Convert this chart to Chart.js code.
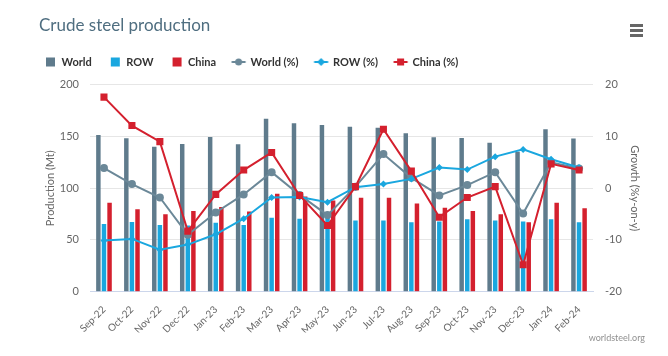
<!DOCTYPE html>
<html>
<head>
<meta charset="utf-8">
<script src="https://cdn.jsdelivr.net/npm/chart.js@4.4.1/dist/chart.umd.min.js"></script>
<style>
  html, body { margin: 0; padding: 0; background: #ffffff; }
  #wrap { position: relative; width: 668px; height: 356px; }
  #menu { position: absolute; left: 630px; top: 24px; width: 13px; }
  #menu div { height: 2.5px; background: #666666; margin-bottom: 2.5px; }
</style>
</head>
<body>
<div id="wrap">
  <canvas id="chart" width="668" height="356"></canvas>
  <div id="menu"><div></div><div></div><div></div></div>
</div>
<script>
// ---- data ----
const months = ['Sep-22','Oct-22','Nov-22','Dec-22','Jan-23','Feb-23','Mar-23','Apr-23','May-23',
                'Jun-23','Jul-23','Aug-23','Sep-23','Oct-23','Nov-23','Dec-23','Jan-24','Feb-24'];
const worldMt  = [151.4, 148.2, 140.1, 142.7, 149.5, 142.4, 167.2, 162.7, 161.0, 159.4, 158.5, 153.0, 149.2, 148.5, 144.0, 135.3, 156.9, 147.9];
const rowMt    = [65.4, 67.4, 64.4, 64.0, 66.7, 64.4, 71.5, 70.5, 72.0, 68.8, 68.8, 67.2, 67.9, 70.0, 68.8, 67.8, 70.0, 67.2];
const chinaMt  = [86.0, 79.6, 74.8, 78.0, 81.8, 77.5, 94.7, 92.0, 88.0, 90.8, 90.8, 85.1, 81.2, 78.0, 74.8, 67.1, 86.0, 80.6];
const worldPct = [3.9, 0.8, -1.8, -9.0, -4.7, -1.2, 3.1, -1.3, -5.2, 0.3, 6.6, 2.0, -1.4, 0.6, 3.1, -4.9, 5.0, 3.8];
const rowPct   = [-10.1, -9.8, -11.9, -10.9, -8.9, -5.9, -1.8, -1.7, -2.7, 0.2, 0.8, 1.8, 4.0, 3.6, 6.1, 7.5, 5.6, 4.0];
const chinaPct = [17.6, 12.1, 9.0, -8.3, -1.2, 3.5, 6.9, -1.4, -7.2, 0.3, 11.4, 3.3, -5.6, -1.8, 0.3, -14.8, 4.7, 3.5];
const seriesNames = ['World', 'ROW', 'China', 'World (%)', 'ROW (%)', 'China (%)'];
const leftAxisTitle = 'Production (Mt)';
const rightAxisTitle = 'Growth (%y-on-y)';
const chartTitle = 'Crude steel production';
const creditText = 'worldsteel.org';

// ---- styles ----
const FONT = 'Lato, "Open Sans", sans-serif';
const C_WORLD = '#5f7b8c';
const C_WORLD_LINE = '#6b8898';
const C_ROW = '#1aa7df';
const C_CHINA = '#d4202e';

function legendSymbol(kind, color) {
  const cv = document.createElement('canvas');
  cv.width = 28; cv.height = 12;
  const g = cv.getContext('2d');
  g.fillStyle = color; g.strokeStyle = color;
  if (kind === 'bar') {
    g.fillRect(12, 1.5, 9, 9);
  } else {
    g.lineWidth = 2;
    g.beginPath(); g.moveTo(8.5, 6); g.lineTo(22.5, 6); g.stroke();
    const cx = 15.5, cy = 6;
    g.beginPath();
    if (kind === 'circle') { g.arc(cx, cy, 3.5, 0, Math.PI * 2); }
    else if (kind === 'diamond') { g.moveTo(cx, cy - 4); g.lineTo(cx + 4, cy); g.lineTo(cx, cy + 4); g.lineTo(cx - 4, cy); g.closePath(); }
    else { g.rect(cx - 3.5, cy - 3.5, 7, 7); }
    g.fill();
  }
  return cv;
}
const legendSymbols = [
  legendSymbol('bar', C_WORLD), legendSymbol('bar', C_ROW), legendSymbol('bar', C_CHINA),
  legendSymbol('circle', C_WORLD_LINE), legendSymbol('diamond', C_ROW), legendSymbol('square', C_CHINA)
];

const layoutTweaks = {
  id: 'layoutTweaks',
  beforeUpdate(chart) {
    const lg = chart.legend;
    if (lg && !lg.__gap) {
      const f = lg.fit;
      lg.fit = function () { f.call(this); this.height += 7.2; };
      lg.__gap = true;
    }
  },
  afterLayout(chart) {
    if (chart.titleBlock) { chart.titleBlock.left += 12; }
  }
};

const barCommon = { type: 'bar', yAxisID: 'y', categoryPercentage: 0.6, barPercentage: 0.8, order: 10, borderWidth: 0 };
const lineCommon = { type: 'line', yAxisID: 'y1', borderWidth: 2, tension: 0, pointBorderWidth: 0, fill: false };

new Chart(document.getElementById('chart'), {
  data: {
    labels: months,
    datasets: [
      Object.assign({}, barCommon, { label: seriesNames[0], data: worldMt, backgroundColor: C_WORLD }),
      Object.assign({}, barCommon, { label: seriesNames[1], data: rowMt, backgroundColor: C_ROW }),
      Object.assign({}, barCommon, { label: seriesNames[2], data: chinaMt, backgroundColor: C_CHINA }),
      Object.assign({}, lineCommon, { label: seriesNames[3], data: worldPct, borderColor: C_WORLD_LINE, backgroundColor: C_WORLD_LINE,
        pointStyle: 'circle', pointRadius: 4, pointBackgroundColor: C_WORLD_LINE, order: 3 }),
      Object.assign({}, lineCommon, { label: seriesNames[4], data: rowPct, borderColor: C_ROW, backgroundColor: C_ROW,
        pointStyle: 'rectRot', pointRadius: 3.5, pointBackgroundColor: C_ROW, order: 2 }),
      Object.assign({}, lineCommon, { label: seriesNames[5], data: chinaPct, borderColor: C_CHINA, backgroundColor: C_CHINA,
        pointStyle: 'rect', pointRadius: 5, pointBackgroundColor: C_CHINA, order: 1 })
    ]
  },
  options: {
    responsive: false,
    animation: false,
    devicePixelRatio: 1,
    layout: { padding: { left: 27, right: 23, top: 0, bottom: 12.6 } },
    plugins: {
      tooltip: { enabled: false },
      title: {
        display: true, text: chartTitle, align: 'start', color: '#4f6e80',
        font: { family: FONT, size: 17, weight: 'normal' },
        padding: { top: 15.8, bottom: 7.3 }
      },
      subtitle: {
        display: true, text: creditText, position: 'bottom', align: 'end', color: '#909090',
        font: { family: FONT, size: 9 }, padding: { top: 0, bottom: 0 }
      },
      legend: {
        display: true, position: 'top', align: 'start',
        labels: {
          usePointStyle: true, pointStyleWidth: 16, padding: 13, color: '#333333',
          font: { family: FONT, size: 11, weight: 'bold' },
          sort: (a, b) => a.datasetIndex - b.datasetIndex,
          generateLabels: (chart) => chart.data.datasets.map((ds, i) => ({
            text: ds.label, datasetIndex: i, pointStyle: legendSymbols[i], hidden: false,
            fillStyle: 'transparent', strokeStyle: 'transparent', lineWidth: 0, fontColor: '#333333'
          }))
        }
      }
    },
    scales: {
      x: {
        grid: { display: false },
        border: { display: true, color: '#ccd6eb', width: 1 },
        ticks: { color: '#666666', font: { family: FONT, size: 10 }, minRotation: 45, maxRotation: 45, padding: 4, autoSkip: false },
        afterFit: (s) => { s.height = 40.9; }
      },
      y: {
        position: 'left', min: 0, max: 200,
        grid: { color: '#e6e6e6', drawTicks: false },
        border: { display: false },
        ticks: { stepSize: 50, color: '#666666', font: { family: FONT, size: 11 }, padding: 11 },
        title: { display: true, text: leftAxisTitle, color: '#666666', font: { family: FONT, size: 11 }, padding: { top: 16.4, bottom: 0 } },
        afterFit: (s) => { s.width = 63; }
      },
      y1: {
        position: 'right', min: -20, max: 20,
        grid: { display: false, drawTicks: false },
        border: { display: false },
        ticks: { stepSize: 10, color: '#666666', font: { family: FONT, size: 11 }, padding: 12 },
        title: { display: true, text: rightAxisTitle, color: '#666666', font: { family: FONT, size: 11 }, padding: { top: 3.4, bottom: 0 } },
        afterFit: (s) => { s.width = 52; }
      }
    }
  },
  plugins: [layoutTweaks]
});
</script>
</body>
</html>
